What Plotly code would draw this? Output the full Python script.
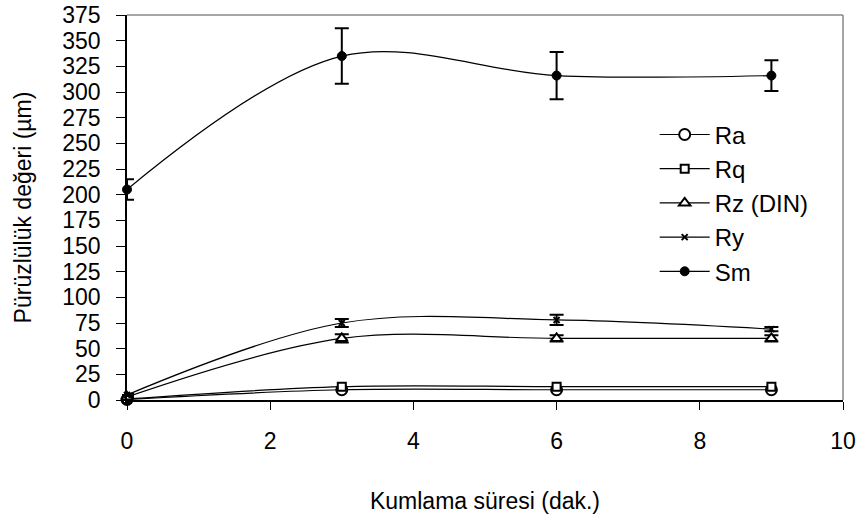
import plotly.graph_objects as go

x_vals = [0, 3, 6, 9]

ra = [0.5, 10, 10, 10]
rq = [1, 13, 13, 13]
rz = [3, 60, 60, 60]
rz_err = [1, 4, 3, 3]
ry = [5, 75, 78, 69]
ry_err = [1, 4, 5, 2]
sm = [205, 335, 316, 316]
sm_err = [10, 27, 23, 15]

x_ticks = [0, 2, 4, 6, 8, 10]
y_ticks = list(range(0, 376, 25))

FONT = "Liberation Sans, Arial, sans-serif"

fig = go.Figure()


def add(name, y, symbol, size, err=None, fill="white", lw=2):
    kw = {}
    if err is not None:
        kw["error_y"] = dict(type="data", array=err, visible=True, color="black",
                             thickness=2, width=7)
    fig.add_trace(go.Scatter(
        x=x_vals, y=y, name=name, mode="lines+markers",
        line=dict(color="black", width=1.2, shape="spline", smoothing=1),
        marker=dict(symbol=symbol, size=size, color=fill,
                    line=dict(color="black", width=lw)),
        cliponaxis=False, legendgroup=name, **kw))


add("Ra", ra, "circle", 11)
add("Rq", rq, "square", 8)
add("Rz (DIN)", rz, "triangle-up", 10, rz_err)
add("Ry", ry, "x-thin", 6, ry_err, fill="black", lw=2)
add("Sm", sm, "circle", 9, sm_err, fill="black", lw=1)

fig.update_layout(
    width=859, height=519,
    margin=dict(l=127, r=16, t=15, b=119),
    paper_bgcolor="white", plot_bgcolor="white",
    font=dict(family=FONT, size=23, color="black"),
    showlegend=True,
    legend=dict(x=0.737, y=0.747, xanchor="left", yanchor="top",
                bgcolor="rgba(0,0,0,0)", font=dict(size=24),
                itemwidth=50,
                traceorder="grouped", tracegroupgap=0),
    xaxis=dict(range=[0, 10], tickvals=x_ticks, ticks="outside", ticklen=8,
               tickcolor="black", showline=True, linecolor="black", linewidth=1.5,
               showgrid=False, zeroline=False, ticklabelstandoff=12,
               automargin=False,
               tickfont=dict(size=23),
               title=dict(text="Kumlama süresi (dak.)", standoff=40,
                          font=dict(size=23))),
    yaxis=dict(range=[0, 375], tickvals=y_ticks, ticks="outside", ticklen=9,
               tickcolor="black", showline=True, linecolor="black", linewidth=1.5,
               showgrid=False, zeroline=False, ticklabelstandoff=11,
               automargin=False,
               tickfont=dict(size=23),
               title=dict(text="Pürüzlülük değeri (µm)", standoff=24,
                          font=dict(size=23))),
)

fig.add_shape(type="line", xref="paper", yref="paper", x0=0, x1=1, y0=1, y1=1,
              line=dict(color="#888888", width=1.5))
fig.add_shape(type="line", xref="paper", yref="paper", x0=1, x1=1, y0=0, y1=1,
              line=dict(color="#888888", width=1.5))

fig.write_html("out.html")
